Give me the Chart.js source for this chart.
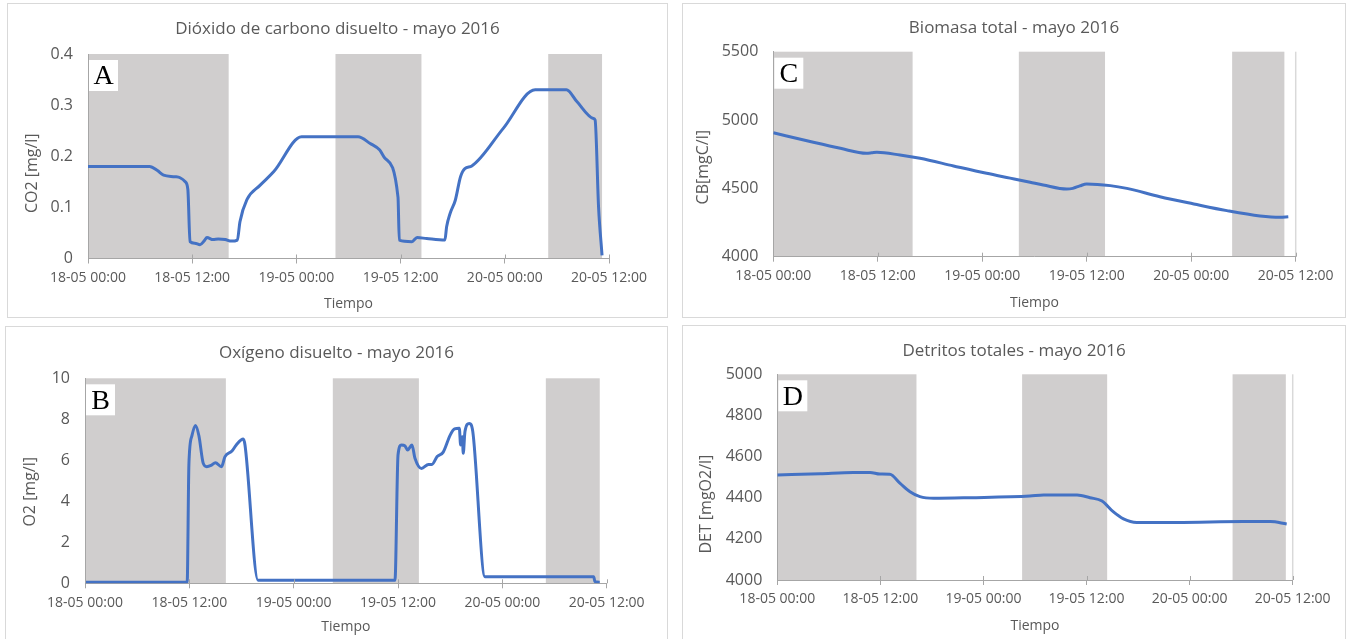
<!DOCTYPE html>
<html>
<head>
<meta charset="utf-8">
<script src="https://cdn.jsdelivr.net/npm/chart.js@4.4.0/dist/chart.umd.min.js"></script>
<style>
  html, body { margin: 0; padding: 0; background: #fff; }
  body { width: 1351px; height: 639px; position: relative; overflow: hidden; }
  .panel { position: absolute; box-sizing: border-box; border: 1px solid #d9d9d9; background: #fff; }
  .panel canvas { position: absolute; left: 0; top: 0; }
</style>
</head>
<body>
<div class="panel"><canvas id="chartA"></canvas></div>
<div class="panel"><canvas id="chartB"></canvas></div>
<div class="panel"><canvas id="chartC"></canvas></div>
<div class="panel"><canvas id="chartD"></canvas></div>

<script>
// x axis is hours since 18-05 00:00
const timeTicks = ["18-05 00:00", "18-05 12:00", "19-05 00:00", "19-05 12:00", "20-05 00:00", "20-05 12:00"];

// grey (night) bands, [start, end] in hours
const bandsABD = [[0, 16.2], [28.5, 38.4], [53, 59.2]];
const bandsC = [[0, 16.0], [28.2, 38.1], [52.7, 58.7]];

// A - CO2 [mg/l]
const co2Hours = [0, 7.1, 8.0, 8.7, 10.0, 10.6, 11.2, 11.5, 11.75, 12.3, 12.9, 13.4, 13.7, 14.4, 15.0, 15.8, 16.5, 17.2,
  17.5, 18.3, 19.8, 21.4, 24.6, 31.1, 32.5, 33.6, 34.2, 35.7, 35.85, 37.3, 37.9, 39.0, 41.1, 41.3, 41.7, 42.3,
  42.9, 43.4, 44.2, 47.8, 51.5, 55.1, 56.3, 58.2, 58.4, 58.8, 59.2];
const co2Values = [0.18, 0.18, 0.172, 0.163, 0.16, 0.158, 0.15, 0.135, 0.033, 0.03, 0.027, 0.035, 0.041, 0.037, 0.038, 0.037, 0.034, 0.036,
  0.072, 0.115, 0.143, 0.17, 0.238, 0.238, 0.225, 0.212, 0.196, 0.12, 0.036, 0.033, 0.041, 0.039, 0.036, 0.062, 0.088, 0.114,
  0.16, 0.176, 0.181, 0.254, 0.33, 0.33, 0.307, 0.274, 0.271, 0.10, 0.006];

// B - O2 [mg/l]
const o2Hours = [0, 11.75, 11.95, 12.3, 12.7, 13.1, 13.6, 14.0, 14.5, 15.0, 15.7, 16.1, 16.9, 17.4, 18.2, 18.4, 19.9,
  35.65, 36.0, 36.4, 36.8, 37.1, 37.6, 37.95, 38.7, 39.5, 39.9, 40.5, 41.2, 42.0, 42.5, 43.05, 43.2, 43.4, 43.5, 43.7,
  44.2, 44.6, 46.0, 58.5, 58.65, 59.2];
const o2Values = [0.05, 0.05, 5.8, 7.2, 7.7, 7.2, 5.85, 5.69, 5.75, 5.88, 5.69, 6.18, 6.45, 6.75, 7.04, 6.75, 0.15,
  0.15, 6.26, 6.75, 6.7, 6.5, 6.75, 6.1, 5.6, 5.8, 5.8, 6.18, 6.4, 7.23, 7.53, 7.56, 6.75, 7.15, 6.34, 7.4,
  7.8, 7.4, 0.32, 0.32, 0.08, 0.05];

// C - CB [mgC/l]
const cbHours = [0, 4.6, 7.7, 10.7, 11.3, 11.9, 14.55, 16.85, 20.7, 24.5, 27.2, 29.5, 31.0, 33.7, 34.4, 35.2, 36.0,
  38.7, 40.6, 44.4, 48.3, 52.1, 55.9, 58.2, 59.15];
const cbValues = [4907, 4837, 4793, 4757, 4760, 4764, 4744, 4720, 4664, 4610, 4575, 4545, 4525, 4495, 4500, 4518, 4532,
  4520, 4500, 4439, 4386, 4337, 4298, 4288, 4293];

// D - DET [mgO2/l]
const detHours = [0, 5.0, 8.85, 10.8, 11.95, 13.1, 14.3, 15.45, 16.6, 18.2, 22.45, 29.4, 31.0, 34.9, 36.4, 37.8, 39.1,
  40.3, 41.85, 46.5, 54.25, 57.4, 59.3];
const detValues = [4510, 4517, 4523, 4523, 4515, 4514, 4470, 4429, 4405, 4397, 4400, 4408, 4413, 4413, 4400, 4384, 4332,
  4297, 4280, 4280, 4284, 4284, 4272];

const FONT = "'Open Sans', sans-serif";
const TEXT = "#595959";
const AXIS = "#a6a6a6";

const nightBands = {
  id: "nightBands",
  beforeDraw(chart, args, o) {
    const { ctx, chartArea: a, scales: { x } } = chart;
    ctx.save();
    ctx.fillStyle = "#d0cece";
    o.bands.forEach(([s, e]) => {
      const x0 = x.getPixelForValue(s);
      const x1 = x.getPixelForValue(e);
      ctx.fillRect(x0, a.top, x1 - x0, a.bottom - a.top);
    });
    if (o.rightLine) {
      const xr = x.getPixelForValue(x.max);
      ctx.strokeStyle = "#d9d9d9";
      ctx.lineWidth = 1.5;
      ctx.beginPath();
      ctx.moveTo(xr, a.top);
      ctx.lineTo(xr, a.bottom);
      ctx.stroke();
    }
    ctx.restore();
  },
  afterDraw(chart, args, o) {
    const { ctx, chartArea: a, scales: { x } } = chart;
    ctx.save();
    // tick marks cross the x axis, draw the upper half
    ctx.strokeStyle = AXIS;
    ctx.lineWidth = 1;
    x.ticks.forEach(t => {
      const px = Math.round(x.getPixelForValue(t.value)) + 0.5;
      ctx.beginPath();
      ctx.moveTo(px, a.bottom - 4);
      ctx.lineTo(px, a.bottom);
      ctx.stroke();
    });
    // panel letter
    ctx.fillStyle = "#fff";
    ctx.fillRect(a.left + 1, a.top + 6, 29, 31);
    ctx.fillStyle = "#000";
    ctx.font = "28px 'Liberation Serif', serif";
    ctx.textAlign = "center";
    ctx.textBaseline = "middle";
    ctx.fillText(o.tag, a.left + 15.5, a.top + 23);
    // y axis title
    ctx.fillStyle = TEXT;
    ctx.font = "16px " + FONT;
    ctx.translate(o.yTitleX, (a.top + a.bottom) / 2 + o.yTitleShift);
    ctx.rotate(-Math.PI / 2);
    ctx.fillText(o.yTitle, 0, 0);
    ctx.restore();
  }
};

function makePanel(id, box, plot, cfg) {
  const canvas = document.getElementById(id);
  const panel = canvas.parentElement;
  Object.assign(panel.style, { left: box.x + "px", top: box.y + "px", width: box.w + "px", height: box.h + "px" });
  const ox = box.x + 1, oy = box.y + 1;
  const w = box.w - 2, h = box.h - 2;
  canvas.width = w;
  canvas.height = h;

  const titleLH = 17 * 1.2;
  const titleTop = cfg.titleY - oy - titleLH / 2;
  const xTitleLH = 14 * 1.2;
  const rightPad = w - (plot.r - ox);

  new Chart(canvas, {
    type: "line",
    data: {
      datasets: [{
        data: cfg.hours.map((t, i) => ({ x: t, y: cfg.values[i] })),
        borderColor: "#4472c4",
        borderWidth: 3,
        pointRadius: 0,
        cubicInterpolationMode: "monotone",
        fill: false
      }]
    },
    options: {
      responsive: false,
      animation: false,
      layout: { padding: 0 },
      plugins: {
        legend: { display: false },
        tooltip: { enabled: false },
        title: {
          display: true,
          text: cfg.title,
          color: TEXT,
          font: { family: FONT, size: 17, weight: "normal", lineHeight: 1.2 },
          padding: { top: titleTop, bottom: (plot.t - oy) - titleLH - titleTop }
        },
        nightBands: {
          bands: cfg.bands,
          tag: cfg.tag,
          yTitle: cfg.yTitle,
          yTitleX: cfg.yTitleX - ox,
          yTitleShift: cfg.yTitleShift,
          rightLine: cfg.rightLine
        }
      },
      scales: {
        x: {
          type: "linear",
          min: 0,
          max: 60,
          ticks: {
            stepSize: 12,
            autoSkip: false,
            maxRotation: 0,
            color: TEXT,
            padding: 6,
            font: { family: FONT, size: 14 },
            callback: v => timeTicks[Math.round(v / 12)]
          },
          grid: { drawOnChartArea: false, drawTicks: true, tickLength: 5, color: AXIS },
          border: { color: AXIS, width: 1 },
          title: {
            display: true,
            text: "Tiempo",
            color: TEXT,
            font: { family: FONT, size: 14, lineHeight: 1.2 },
            padding: { top: 0, bottom: (oy + h) - cfg.xTitleY - xTitleLH / 2 }
          },
          afterFit: s => { s.height = h - (plot.b - oy); }
        },
        y: {
          min: cfg.yMin,
          max: cfg.yMax,
          ticks: {
            stepSize: cfg.yStep,
            color: TEXT,
            padding: 15,
            font: { family: FONT, size: 16 },
            callback: cfg.yFormat
          },
          grid: { drawOnChartArea: false, drawTicks: false },
          border: { color: AXIS, width: 1 },
          afterFit: s => { s.width = plot.l - ox; }
        },
        // empty spacer on the right so the title stays centred on the panel
        spacer: {
          position: "right",
          min: 0,
          max: 1,
          ticks: { display: false },
          grid: { display: false, drawTicks: false },
          border: { display: false },
          afterFit: s => { s.width = rightPad; }
        }
      }
    },
    plugins: [nightBands]
  });
}

makePanel("chartA", { x: 7, y: 3, w: 661, h: 315 }, { l: 88, r: 609, t: 54, b: 258.5 }, {
  title: "Dióxido de carbono disuelto - mayo 2016", titleY: 29, xTitleY: 304,
  tag: "A", yTitle: "CO2 [mg/l]", yTitleX: 32, yTitleShift: 17,
  hours: co2Hours, values: co2Values, bands: bandsABD,
  yMin: 0, yMax: 0.4, yStep: 0.1, yFormat: v => String(+v.toFixed(1))
});

makePanel("chartB", { x: 5, y: 326, w: 663, h: 320 }, { l: 85, r: 606.7, t: 378.3, b: 583.3 }, {
  title: "Oxígeno disuelto - mayo 2016", titleY: 353, xTitleY: 627.5,
  tag: "B", yTitle: "O2 [mg/l]", yTitleX: 30, yTitleShift: 11,
  hours: o2Hours, values: o2Values, bands: bandsABD,
  yMin: 0, yMax: 10, yStep: 2, yFormat: v => String(v)
});

makePanel("chartC", { x: 682, y: 3, w: 664, h: 315 }, { l: 773.3, r: 1295.7, t: 51.7, b: 256.7 }, {
  title: "Biomasa total - mayo 2016", titleY: 28.5, xTitleY: 303,
  tag: "C", yTitle: "CB[mgC/l]", yTitleX: 703, yTitleShift: 13, rightLine: true,
  hours: cbHours, values: cbValues, bands: bandsC,
  yMin: 4000, yMax: 5500, yStep: 500, yFormat: v => String(v)
});

makePanel("chartD", { x: 682, y: 325, w: 664, h: 320 }, { l: 777.3, r: 1292.7, t: 374.3, b: 580 }, {
  title: "Detritos totales - mayo 2016", titleY: 351, xTitleY: 626,
  tag: "D", yTitle: "DET [mgO2/l]", yTitleX: 706, yTitleShift: 27, rightLine: true,
  hours: detHours, values: detValues, bands: bandsABD,
  yMin: 4000, yMax: 5000, yStep: 200, yFormat: v => String(v)
});
</script>
</body>
</html>
